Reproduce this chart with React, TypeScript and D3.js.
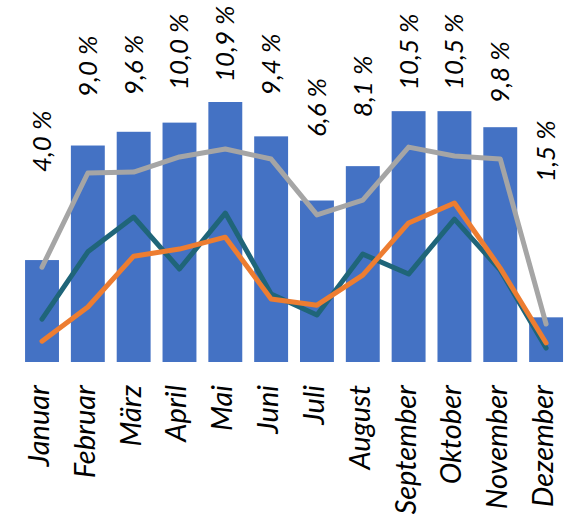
import React from "react";
import * as d3 from "d3";

const months = ["Januar", "Februar", "März", "April", "Mai", "Juni", "Juli", "August", "September", "Oktober", "November", "Dezember"];
const barValues = [4.0, 9.0, 9.6, 10.0, 10.9, 9.4, 6.6, 8.1, 10.5, 10.5, 9.8, 1.5];
const barLabels = ["4,0 %", "9,0 %", "9,6 %", "10,0 %", "10,9 %", "9,4 %", "6,6 %", "8,1 %", "10,5 %", "10,5 %", "9,8 %", "1,5 %"];
// hidden series the labels sit on
const labelSeries = [7.84, 11.12, 11.2, 11.42, 11.77, 11.2, 9.37, 10.24, 11.42, 11.42, 10.86, 7.41];
const grayLine = [3.69, 7.8, 7.84, 8.5, 8.85, 8.41, 5.97, 6.62, 8.93, 8.54, 8.41, 1.21];
const tealLine = [1.42, 4.36, 5.88, 3.61, 6.05, 2.52, 1.6, 4.26, 3.39, 5.79, 3.56, 0.16];
const orangeLine = [0.46, 1.95, 4.17, 4.48, 5.0, 2.3, 2.03, 3.34, 5.62, 6.49, 3.65, 0.38];

const W = 570;
const H = 514;

export default function App() {
  const x = d3.scaleBand<string>().domain(months).range([19.1, 569]).paddingInner(0.26).paddingOuter(0.13);
  const y = d3.scaleLinear().domain([-0.45, 10.9]).range([362, 102]);
  const cx = (m: string) => (x(m) as number) + x.bandwidth() / 2;
  const line = d3
    .line<number>()
    .x((_, i) => cx(months[i]))
    .y((d) => y(d));
  const series = [
    { data: grayLine, color: "#A5A5A5" },
    { data: tealLine, color: "#1F6579" },
    { data: orangeLine, color: "#ED7D31" },
  ];
  const font = "Lato, 'Open Sans', sans-serif";
  return (
    <svg width={W} height={H} style={{ position: "absolute", left: 0, top: 0, background: "#fff" }}>
      {months.map((m, i) => (
        <rect key={m} x={x(m)} y={y(barValues[i])} width={x.bandwidth()} height={y(-0.45) - y(barValues[i])} fill="#4472C4" />
      ))}
      {series.map((s, k) => (
        <path key={k} d={line(s.data) || ""} fill="none" stroke={s.color} strokeWidth={5} strokeLinejoin="round" strokeLinecap="round" />
      ))}
      {months.map((m, i) => (
        <text
          key={"l" + m}
          transform={`translate(${cx(m) + 9},${y(labelSeries[i])}) rotate(-90)`}
          fontFamily={font}
          fontStyle="italic"
          fontSize={26}
          fill="#000"
          textAnchor="start"
        >
          {barLabels[i]}
        </text>
      ))}
      {months.map((m) => (
        <text
          key={"m" + m}
          transform={`translate(${cx(m) + 7},385) rotate(-90)`}
          fontFamily={font}
          fontStyle="italic"
          fontSize={29}
          fill="#000"
          textAnchor="end"
        >
          {m}
        </text>
      ))}
    </svg>
  );
}
